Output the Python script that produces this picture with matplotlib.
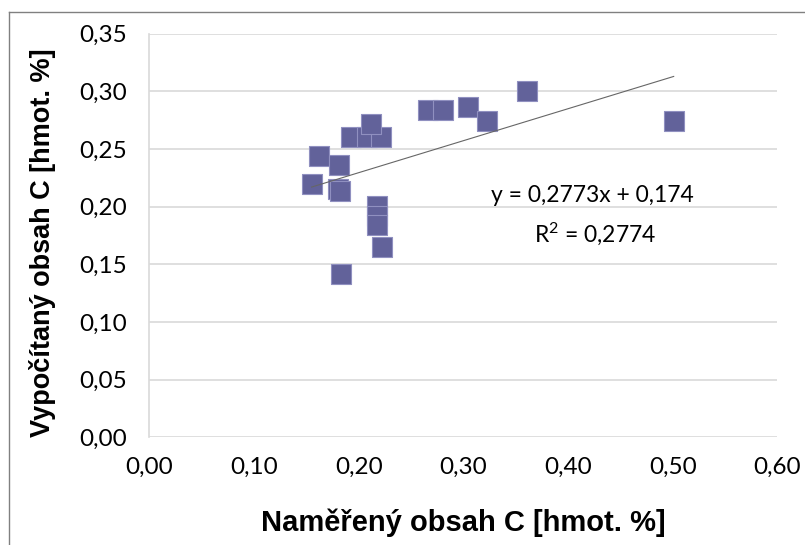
import matplotlib
matplotlib.use("Agg")
import matplotlib.pyplot as plt
from matplotlib.lines import Line2D
from matplotlib.ticker import FuncFormatter, MultipleLocator
import numpy as np

# naměřené vs. vypočítané hodnoty obsahu uhlíku
nameren = [0.155, 0.162, 0.181, 0.180, 0.182, 0.183,
           0.218, 0.218, 0.218, 0.222,
           0.193, 0.208, 0.221, 0.212,
           0.266, 0.281, 0.304, 0.323, 0.361, 0.501]
vypocten = [0.220, 0.244, 0.236, 0.215, 0.214, 0.142,
            0.201, 0.192, 0.184, 0.165,
            0.260, 0.260, 0.260, 0.272,
            0.284, 0.284, 0.286, 0.274, 0.300, 0.274]

# lineární trend
slope = 0.2773
intercept = 0.174
r2 = 0.2774

x_ticks = [0.0, 0.1, 0.2, 0.3, 0.4, 0.5, 0.6]


def cz(v, pos=None):
    return f"{v:.2f}".replace(".", ",")


plt.rcParams['font.family'] = ['Lato', 'DejaVu Sans']
plt.rcParams['mathtext.fontset'] = 'custom'
plt.rcParams['mathtext.rm'] = 'Lato'
plt.rcParams['mathtext.it'] = 'Lato'

fig = plt.figure(figsize=(8.05, 5.45), dpi=100)
ax = fig.add_axes([0.1855, 0.1976, 0.9656 - 0.1855, 0.9382 - 0.1976])

ax.scatter(nameren, vypocten, marker='s', s=14.4 ** 2,
           facecolor='#62629a', edgecolor='#9090c0', linewidths=0.8, zorder=3)

xs = np.array([min(nameren), max(nameren)])
ax.plot(xs, slope * xs + intercept, color='#666666', lw=0.8, zorder=4)

ax.set_xlim(0, 0.6)
ax.set_ylim(0, 0.35)
ax.set_xticks(x_ticks)
ax.yaxis.set_major_locator(MultipleLocator(0.05))
ax.xaxis.set_major_formatter(FuncFormatter(cz))
ax.yaxis.set_major_formatter(FuncFormatter(cz))

ax.grid(axis='y', color='#d9d9d9', lw=1.2)
ax.set_axisbelow(True)
for side in ['top', 'right', 'bottom']:
    ax.spines[side].set_visible(False)
ax.spines['left'].set_color('#d9d9d9')
ax.spines['left'].set_linewidth(1.2)
ax.tick_params(length=0, labelsize=17.5, colors='black')
ax.tick_params(axis='y', pad=16)
ax.tick_params(axis='x', pad=14)

label_font = dict(family=['Liberation Sans', 'DejaVu Sans'], weight='bold')
ax.set_xlabel("Naměřený obsah C [hmot. %]", labelpad=22, size=21, **label_font)
ax.set_ylabel("Vypočítaný obsah C [hmot. %]", size=19.5, **label_font)
ax.yaxis.set_label_coords(-0.149, 0.483)

eq = f"y = {slope:.4f}x + {intercept:.3f}".replace(".", ",")
ax.text(0.4235, 0.2095, eq, fontsize=16.5, ha='center', va='center')
ax.text(0.4255, 0.1765, "R$^{2}$ = " + f"{r2:.4f}".replace(".", ","),
        fontsize=16.5, ha='center', va='center')

# rámeček okolo grafu (horní a levá hrana)
fig.add_artist(Line2D([9 / 805, 1], [1 - 12 / 545, 1 - 12 / 545],
                      transform=fig.transFigure, color='#808080', lw=1))
fig.add_artist(Line2D([9 / 805, 9 / 805], [0, 1 - 12 / 545],
                      transform=fig.transFigure, color='#808080', lw=1))

fig.savefig("out.png", dpi=100)
